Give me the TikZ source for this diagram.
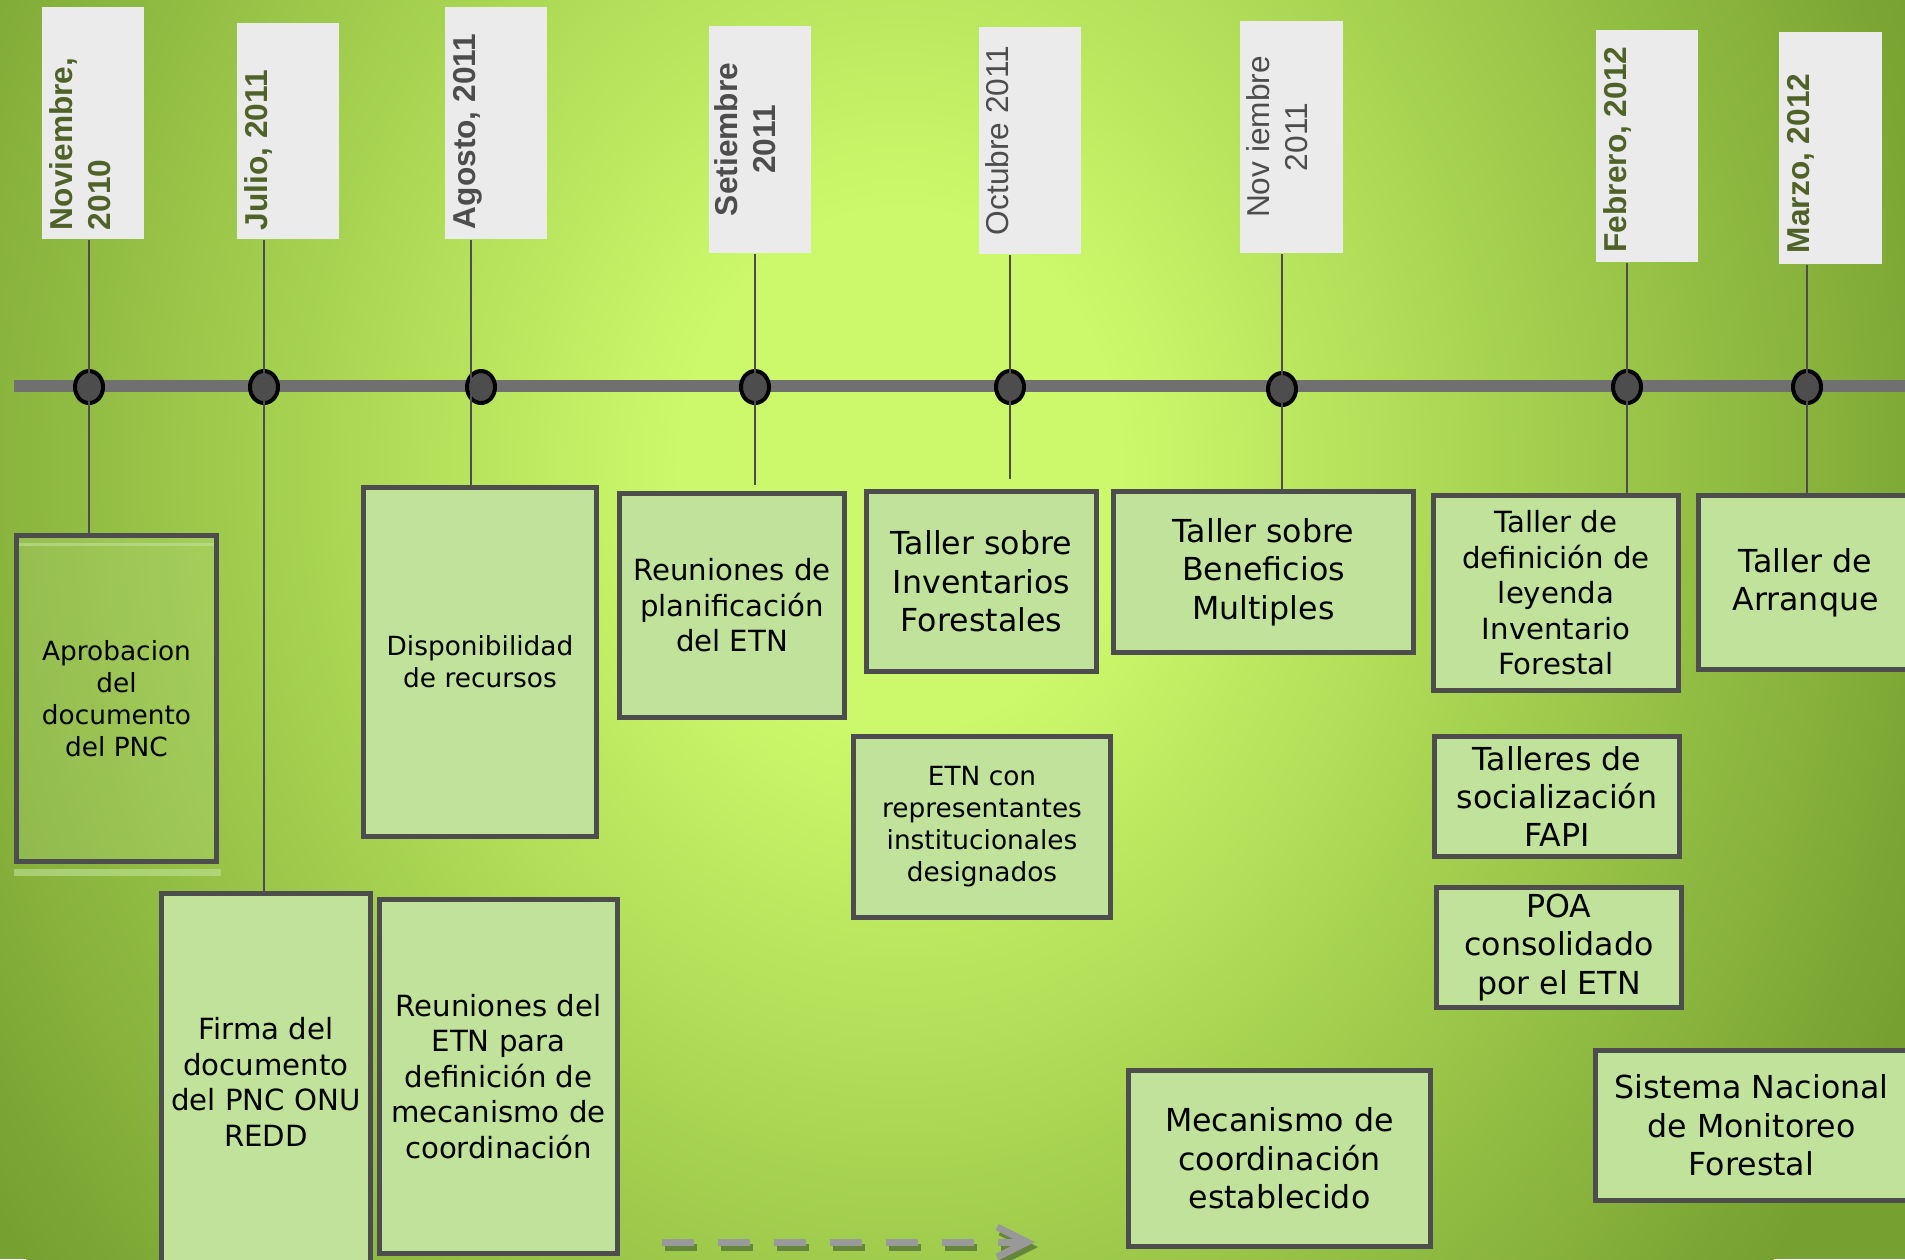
\documentclass[tikz,border=0pt]{standalone}
\usepackage{fontspec}
\setmainfont{DejaVu Sans}
\newfontfamily\datefont{Liberation Sans}
\usetikzlibrary{positioning,arrows.meta,shapes.geometric}
\definecolor{bglight}{HTML}{CCF96B}
\definecolor{bgdark}{HTML}{76A030}
\definecolor{datebg}{HTML}{EBEBEB}
\definecolor{dategreen}{HTML}{4F6228}
\definecolor{dategray}{HTML}{4D4D4D}
\definecolor{evfill}{HTML}{C0E29A}
\definecolor{evline}{HTML}{4D4D4D}
\definecolor{axisgray}{HTML}{707070}
\definecolor{arrowgray}{HTML}{999999}
\definecolor{arrowshadow}{HTML}{66863A}
\pgfdeclareradialshading{bgglow}{\pgfpoint{0bp}{0bp}}{color(0bp)=(bglight); color(5bp)=(bglight); color(25bp)=(bgdark); color(50bp)=(bgdark)}

\begin{document}
\begin{tikzpicture}[x=0.01cm, y=-0.01cm,
  datebox/.style={rectangle, fill=datebg, inner sep=0pt, minimum width=1.02cm},
  datetxt/.style={rotate=90, inner sep=0pt, font=\datefont\fontsize{9}{10.8}\selectfont},
  datebf/.style={datetxt, font=\datefont\bfseries\fontsize{9}{10.8}\selectfont},
  evbox/.style={rectangle, draw=evline, line width=0.05cm, fill=evfill, inner sep=0pt, align=center, text=black},
  evbig/.style={evbox, font=\fontsize{9}{10.9}\selectfont},
  evmid/.style={evbox, font=\fontsize{8.3}{10.1}\selectfont},
  evsmall/.style={evbox, font=\fontsize{7.5}{9.1}\selectfont},
  milestone/.style={ellipse, draw=black, line width=0.04cm, fill=evline, inner sep=0pt, minimum width=0.28cm, minimum height=0.32cm},
  stem/.style={draw=evline, line width=0.025cm},
  axis/.style={draw=axisgray, line width=0.12cm},
  aprobglow/.style={fill=evfill, fill opacity=0.6},
  trend/.style={draw=arrowgray, line width=0.07cm, dash pattern=on 0.32cm off 0.24cm, -{Straight Barb[length=0.3cm, width=0.3cm]}},
  trendshadow/.style={trend, draw=arrowshadow}]
\useasboundingbox (0,0) rectangle (1905,1259);
\clip (0,0) rectangle (1905,1259);
\fill[bgdark] (0,0) rectangle (1905,1259);
\shade[shading=bgglow] (900,470) ellipse [x radius=1100, y radius=1300];

\coordinate (axisL) at (14,386);
\coordinate (axisR) at (1920,386);
\draw[axis] (axisL) -- (axisR);

\node[milestone] (dnov) at (89,387) {};
\node[milestone] (djul) at (264,387) {};
\node[milestone] (dago) at (481,387) {};
\node[milestone] (dset) at (755,387) {};
\node[milestone] (doct) at (1010,387) {};
\node[milestone] (dnoi) at (1282,389) {};
\node[milestone] (dfeb) at (1627,387) {};
\node[milestone] (dmar) at (1807,387) {};
\coordinate (xago) at (471,387);

\node[datebox, minimum height=2.32cm] (lblnov) at (93,123) {};
\node[datebox, minimum height=2.16cm] (lbljul) at (288,131) {};
\node[datebox, minimum height=2.32cm] (lblago) at (496,123) {};
\node[datebox, minimum height=2.27cm] (lblset) at (760,139.5) {};
\node[datebox, minimum height=2.27cm] (lbloct) at (1030,140.5) {};
\node[datebox, minimum height=2.32cm] (lblnoi) at (1291.5,137) {};
\node[datebox, minimum height=2.32cm] (lblfeb) at (1647,146) {};
\node[datebox, minimum height=2.32cm] (lblmar) at (1830.5,148) {};

\node[datebf, text=dategreen, align=left, anchor=north west] (tnov) at ([xshift=0.08cm,yshift=0.09cm]lblnov.south west) {Noviembre,\\2010};
\node[datebf, text=dategreen, align=left, anchor=north west] (tjul) at ([xshift=0.08cm,yshift=0.09cm]lbljul.south west) {Julio, 2011};
\node[datebf, text=dategray, align=left, anchor=north west] (tago) at ([xshift=0.08cm,yshift=0.10cm]lblago.south west) {Agosto, 2011};
\node[datebf, text=dategray, align=center, anchor=north] (tset) at ([xshift=0.06cm]lblset.west) {Setiembre\\2011};
\node[datetxt, text=dategray, align=center, anchor=north] (toct) at ([xshift=0.07cm]lbloct.west) {Octubre 2011};
\node[datetxt, text=dategray, align=center, anchor=north] (tnoi) at ([xshift=0.06cm]lblnoi.west) {Nov iembre\\2011};
\node[datebf, text=dategreen, align=center, anchor=north] (tfeb) at ([xshift=0.08cm,yshift=-0.035cm]lblfeb.west) {Febrero, 2012};
\node[datebf, text=dategreen, align=left, anchor=north west] (tmar) at ([xshift=0.08cm,yshift=0.11cm]lblmar.south west) {Marzo, 2012};

\node[evsmall, fill opacity=0.2, text opacity=1, minimum width=1.99cm, minimum height=3.25cm] (aprob) at (116.5,698.5) {Aprobacion\\del\\documento\\del PNC};
\fill[aprobglow] ([xshift=0.05cm,yshift=-0.10cm]aprob.north west) rectangle ([xshift=-0.05cm,yshift=-0.13cm]aprob.north east);
\fill[aprobglow] ([yshift=-0.055cm]aprob.south west) rectangle ([xshift=0.02cm,yshift=-0.125cm]aprob.south east);
\node[evmid, minimum width=2.08cm, minimum height=3.76cm] (firma) at (266,1082) {Firma del\\documento\\del PNC ONU\\REDD};
\node[evsmall, minimum width=2.33cm, minimum height=3.49cm] (dispon) at (480,662) {Disponibilidad\\de recursos};
\node[evmid, minimum width=2.38cm, minimum height=3.54cm] (reunetn) at (498.5,1076.5) {Reuniones del\\ETN para\\definición de\\mecanismo de\\coordinación};
\node[evmid, minimum width=2.25cm, minimum height=2.24cm] (planif) at (732,605.5) {Reuniones de\\planificación\\del ETN};
\node[evbig, minimum width=2.30cm, minimum height=1.80cm] (inventa) at (981.5,581.5) {Taller sobre\\Inventarios\\Forestales};
\node[evsmall, minimum width=2.57cm, minimum height=1.81cm] (etncon) at (982,827) {ETN con\\representantes\\institucionales\\designados};
\node[evbig, minimum width=3.00cm, minimum height=1.61cm] (benef) at (1263.5,572) {Taller sobre\\Beneficios\\Multiples};
\node[evmid, minimum width=2.45cm, minimum height=1.95cm] (leyenda) at (1556,593) {Taller de\\definición de\\leyenda\\Inventario\\Forestal};
\node[evbig, minimum width=2.14cm, minimum height=1.74cm] (arranque) at (1805.5,582.5) {Taller de\\Arranque};
\node[evbig, minimum width=2.45cm, minimum height=1.20cm] (fapi) at (1557,796.5) {Talleres de\\socialización\\FAPI};
\node[evbig, minimum width=2.45cm, minimum height=1.20cm] (poa) at (1559,947.5) {POA\\consolidado\\por el ETN};
\node[evbig, minimum width=3.12cm, minimum height=1.49cm] (sistema) at (1751.5,1125.5) {Sistema Nacional\\de Monitoreo\\Forestal};
\node[evbig, minimum width=3.02cm, minimum height=1.76cm] (mecan) at (1279.5,1158.5) {Mecanismo de\\coordinación\\establecido};

\draw[stem] (lblnov.south -| dnov) -- (aprob.north -| dnov);
\draw[stem] (lbljul.south -| djul) -- (firma.north -| djul);
\draw[stem] (lblago.south -| xago) -- (dispon.north -| xago);
\draw[stem, shorten >=0.06cm] (lblset.south -| dset) -- (planif.north -| dset);
\draw[stem, shorten >=0.1cm] (lbloct.south -| doct) -- (inventa.north -| doct);
\draw[stem] (lblnoi.south -| dnoi) -- (benef.north -| dnoi);
\draw[stem] (lblfeb.south -| dfeb) -- (leyenda.north -| dfeb);
\draw[stem] (lblmar.south -| dmar) -- (arranque.north -| dmar);

\coordinate (trendS) at (662,1242);
\coordinate (trendE) at (1035,1242);
\draw[trendshadow] ([xshift=0.03cm,yshift=-0.05cm]trendS) -- ([xshift=0.03cm,yshift=-0.05cm]trendE);
\draw[trend] (trendS) -- (trendE);
\end{tikzpicture}
\end{document}
